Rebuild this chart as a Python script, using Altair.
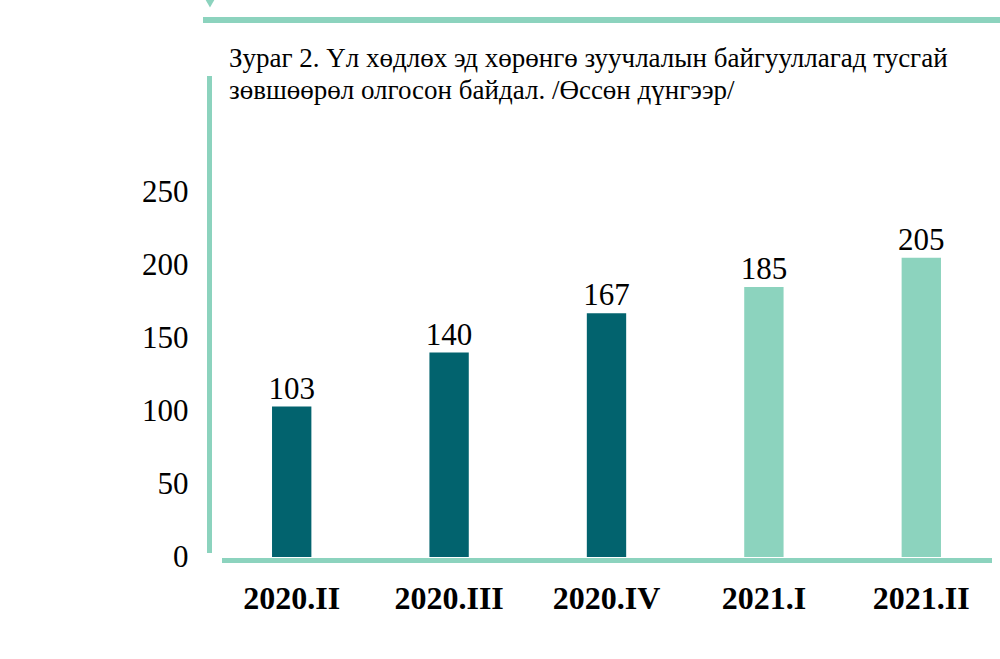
import altair as alt
import pandas as pd

categories = ["2020.II", "2020.III", "2020.IV", "2021.I", "2021.II"]
values = [103, 140, 167, 185, 205]
y_ticks = [0, 50, 100, 150, 200, 250]
title_lines = [
    "Зураг 2. Үл хөдлөх эд хөрөнгө зуучлалын байгууллагад тусгай",
    "зөвшөөрөл олгосон байдал. /Өссөн дүнгээр/",
]

DARK = "#02636E"
MINT = "#8CD3BE"
SERIF = "Liberation Serif"

df = pd.DataFrame({"cat": categories, "val": values})
df["year"] = df["cat"].str[:4]

W, H = 787, 365
PL, PT = 213, 192
PB = 659 - PT - H

x_enc = alt.X(
    "cat:N",
    sort=categories,
    scale=alt.Scale(paddingInner=0.75, paddingOuter=0.375),
    axis=alt.Axis(
        title=None, labelAngle=0, domain=False, ticks=False,
        labelFont=SERIF, labelFontSize=32, labelFontWeight="bold",
        labelColor="black", labelPadding=26,
    ),
)
y_enc = alt.Y(
    "val:Q",
    scale=alt.Scale(domain=[0, 250], nice=False),
    axis=alt.Axis(
        title=None, values=y_ticks, domain=False, ticks=False, grid=False,
        labelFont=SERIF, labelFontSize=31, labelColor="black", labelPadding=25,
    ),
)

base = alt.Chart(df)

bars = base.mark_bar().encode(
    x=x_enc,
    y=y_enc,
    color=alt.Color("year:N", scale=alt.Scale(domain=["2020", "2021"], range=[DARK, MINT]), legend=None),
)

labels = base.mark_text(
    font=SERIF, fontSize=31, color="black", baseline="alphabetic", dy=-8
).encode(x=alt.X("cat:N", sort=categories), y="val:Q", text="val:Q")

title = alt.Chart(pd.DataFrame({"t": ["\n".join(title_lines)]})).mark_text(
    font=SERIF, fontSize=27, color="black", align="left", baseline="alphabetic",
    lineBreak="\n", lineHeight=32,
).encode(x=alt.value(229 - PL), y=alt.value(67 - PT), text="t:N")

deco = alt.Chart(pd.DataFrame({"k": [0]}))
top_line = deco.mark_rule(color=MINT, strokeWidth=6).encode(
    x=alt.value(-10), x2=alt.value(W), y=alt.value(20 - PT)
)
left_line = deco.mark_rule(color=MINT, strokeWidth=5).encode(
    x=alt.value(209.5 - PL), y=alt.value(76 - PT), y2=alt.value(553 - PT)
)
base_line = deco.mark_rule(color=MINT, strokeWidth=5).encode(
    x=alt.value(222 - PL), x2=alt.value(992 - PL), y=alt.value(560.5 - PT)
)
tri = deco.mark_point(shape="triangle-down", filled=True, color=MINT, size=160, opacity=1).encode(
    x=alt.value(210 - PL), y=alt.value(2 - PT)
)

chart = alt.layer(bars, labels, title, top_line, left_line, base_line, tri).properties(
    width=W,
    height=H,
    autosize=alt.AutoSizeParams(type="none"),
    padding={"left": PL, "top": PT, "right": 0, "bottom": PB},
).configure(background="white", view=alt.ViewConfig(stroke=None))

chart.save("out.html", embed_options={"renderer": "svg", "actions": False})
